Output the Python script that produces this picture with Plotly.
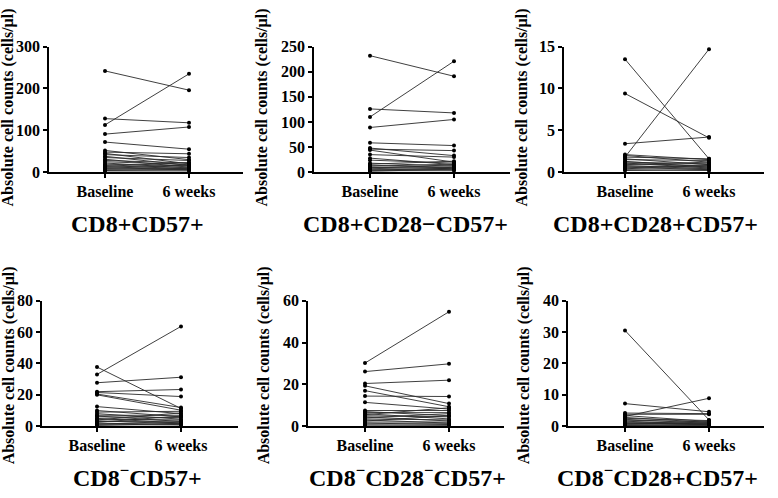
import plotly.graph_objects as go

W, H = 778, 498

categories = ["Baseline", "6 weeks"]

titles = ["CD8+CD57+", "CD8+CD28−CD57+", "CD8+CD28+CD57+",
          "CD8<sup>−</sup>CD57+", "CD8<sup>−</sup>CD28<sup>−</sup>CD57+", "CD8<sup>−</sup>CD28+CD57+"]

y_title = "Absolute cell counts (cells/μl)"

# panel 1: CD8+CD57+
p1_baseline = [242, 113, 128, 91, 72, 52, 48, 45, 42, 38, 35, 31, 28, 25, 22, 19, 16, 14, 13, 11, 9, 8, 6, 4, 3]
p1_week6 = [196, 235, 118, 108, 55, 30, 44, 20, 35, 16, 28, 12, 22, 18, 10, 15, 8, 23, 12, 6, 17, 9, 5, 7, 3]
# panel 2: CD8+CD28-CD57+
p2_baseline = [232, 110, 126, 89, 58.5, 48, 46, 44, 35, 28, 24, 18, 16, 14, 12, 10, 9, 7, 5, 4, 3, 2]
p2_week6 = [191, 221, 118, 105, 53, 33, 43, 20, 30, 15, 18, 12, 22, 9, 16, 7, 13, 10, 5, 8, 3, 6]
# panel 3: CD8+CD28+CD57+
p3_baseline = [13.5, 9.4, 3.4, 1.8, 2.1, 2.0, 1.8, 1.6, 1.5, 1.3, 1.2, 1.1, 1.0, 0.9, 0.8, 0.7, 0.6, 0.5, 0.4, 0.3, 0.2]
p3_week6 = [1.6, 4.1, 4.2, 14.7, 1.5, 1.2, 1.6, 0.9, 1.4, 0.6, 1.0, 0.5, 0.8, 1.2, 0.4, 0.7, 0.3, 0.5, 0.9, 0.2, 0.3]
# panel 4: CD8-CD57+
p4_baseline = [33, 37.7, 27.7, 22, 21.5, 20.5, 20, 12.5, 10, 9, 8, 7, 6.5, 6, 5, 4.5, 4, 3.5, 3, 2.5, 2, 1.5, 1, 0.5]
p4_week6 = [63.6, 11.3, 31.2, 23.4, 18.9, 11.9, 10.2, 8, 6, 9.5, 4.5, 7, 3, 5.5, 2, 4, 8.5, 1.5, 3.2, 6.5, 1, 2.5, 0.8, 1.8]
# panel 5: CD8-CD28-CD57+
p5_baseline = [30.2, 26.1, 20.4, 19.3, 17, 14.4, 11.4, 7.5, 7, 6.5, 6, 5.5, 5, 4.5, 4, 3.5, 3, 2.5, 2, 1.5, 1, 0.5]
p5_week6 = [54.7, 29.8, 22, 10.8, 9.3, 14.2, 8.2, 7.5, 5, 6.5, 3.5, 8.8, 4.5, 2.5, 6, 3, 1.5, 5, 2, 0.8, 1.2, 0.4]
# panel 6: CD8-CD28+CD57+
p6_baseline = [30.5, 7.2, 3.1, 3.8, 4.2, 3.4, 2.8, 2.5, 2.2, 1.9, 1.6, 1.3, 1.1, 0.9, 0.7, 0.5, 0.3, 0.2]
p6_week6 = [2.0, 4.6, 8.9, 3.8, 4.0, 1.5, 1.2, 1.8, 0.9, 1.4, 0.6, 1.0, 0.5, 0.8, 1.1, 0.3, 0.6, 0.2]

y_ticks = [[0, 100, 200, 300], [0, 50, 100, 150, 200, 250], [0, 5, 10, 15],
           [0, 20, 40, 60, 80], [0, 20, 40, 60], [0, 10, 20, 30, 40]]

panels = [(p1_baseline, p1_week6), (p2_baseline, p2_week6), (p3_baseline, p3_week6),
          (p4_baseline, p4_week6), (p5_baseline, p5_week6), (p6_baseline, p6_week6)]

# layout geometry in pixels: (axis left, baseline x, 6 weeks x, axis right, plot top, plot bottom)
geom = [(49, 105, 189, 243, 40, 170), (314, 370, 454, 510, 40, 170), (564, 625, 709, 764, 40, 170),
        (42, 97, 181, 238, 303, 433), (308, 365, 449, 504, 303, 433), (568, 625, 709, 764, 303, 433)]
ytitle_x = [8, 262, 522, 9, 264, 524]
ytitle_y = [103, 103, 103, 370, 370, 370]
title_pos = [(137, 224), (405, 224), (655, 224), (137, 485), (407, 485), (657, 485)]

FONT = "Liberation Serif"
fig = go.Figure()
layout = dict(width=W, height=H, margin=dict(l=0, r=0, t=0, b=0),
              paper_bgcolor="white", plot_bgcolor="white", showlegend=False,
              annotations=[])

for i, ((b, w), (xl, xb, xw, xr, yt, yb)) in enumerate(zip(panels, geom)):
    k = "" if i == 0 else str(i + 1)
    xs, ys = [], []
    for bv, wv in zip(b, w):
        xs += [0, 1, None]
        ys += [bv, wv, None]
    fig.add_trace(go.Scatter(x=xs, y=ys, mode="lines+markers", xaxis="x" + k, yaxis="y" + k,
                             line=dict(color="#2a2a2a", width=0.9),
                             marker=dict(color="black", size=4), cliponaxis=False,
                             hoverinfo="skip"))
    unit = xw - xb
    xr0 = -(xb - xl) / unit
    xr1 = 1 + (xr - xw) / unit
    common = dict(showline=True, linecolor="black", linewidth=1.5, ticks="outside",
                  ticklen=4, tickwidth=1.5, tickcolor="black", showgrid=False, zeroline=False,
                  tickfont=dict(family=FONT, size=16, color="black", weight="bold"))
    layout["xaxis" + k] = dict(domain=[xl / W, xr / W], range=[xr0, xr1], anchor="y" + k,
                               tickvals=[0, 1], ticktext=categories, **common)
    layout["yaxis" + k] = dict(domain=[1 - yb / H, 1 - yt / H], range=[0, y_ticks[i][-1]],
                               anchor="x" + k, tickvals=y_ticks[i], **common)
    layout["annotations"].append(dict(text=y_title, textangle=-90, xref="paper", yref="paper",
                                      x=ytitle_x[i] / W, y=1 - ytitle_y[i] / H, showarrow=False,
                                      xanchor="center", yanchor="middle",
                                      font=dict(family=FONT, size=16, color="black", weight="bold")))
    tx, ty = title_pos[i]
    layout["annotations"].append(dict(text=titles[i], xref="paper", yref="paper",
                                      x=tx / W, y=1 - ty / H, showarrow=False,
                                      xanchor="center", yanchor="middle",
                                      font=dict(family=FONT, size=24, color="black", weight="bold")))

fig.update_layout(**layout)
fig.write_html("out.html", config={"displayModeBar": False},
               post_script="document.body.style.margin='0';document.body.style.overflow='hidden';")
